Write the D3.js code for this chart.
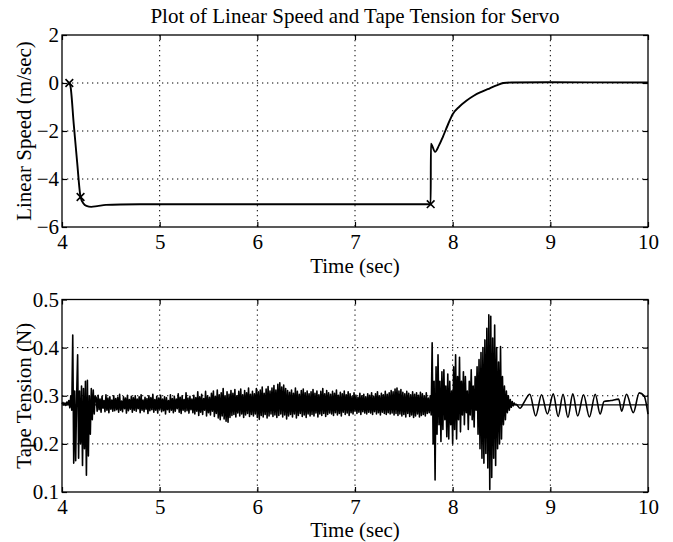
<!DOCTYPE html>
<html lang="en">

<head>
    <meta charset="UTF-8">
    <title>servo speed and tension</title>
    <script src="https://cdn.jsdelivr.net/npm/d3@7"></script>
    <style>
        body { margin: 0; background: #fff; }
    </style>
</head>

<body>
    <svg width="673" height="542" id="mainsvg"></svg>
    <script>
        // ---- data ----
        const timeTicks = [4, 5, 6, 7, 8, 9, 10];
        const speedTicks = [-6, -4, -2, 0, 2];
        const tensionTicks = [0.1, 0.2, 0.3, 0.4, 0.5];

        // linear speed (m/sec)
        const speedTime = [4.07, 4.085, 4.12, 4.155, 4.19, 4.22, 4.25, 4.30, 4.36, 4.45, 4.6, 5.0, 6.0, 7.0, 7.775,
            7.777, 7.82, 7.86, 7.90, 7.95, 8.00, 8.07, 8.14, 8.22, 8.30, 8.38, 8.45, 8.52, 8.6, 9.0, 10.0];
        const speedValue = [0, -0.1, -1.7, -3.3, -4.75, -5.02, -5.12, -5.16, -5.13, -5.08, -5.06, -5.05, -5.05, -5.05, -5.05,
            -2.53, -2.87, -2.6, -2.24, -1.75, -1.3, -0.98, -0.74, -0.52, -0.36, -0.22, -0.1, 0.0, 0.02, 0.03, 0.02];
        const markTime = [4.075, 4.19, 7.775];
        const markValue = [0, -4.75, -5.05];

        // tape tension (N), sampled every 10 ms
        const sampleStep = 0.01;
        const tensionStart = [ // from 4.00
            .283, .286, .281, .285, .280, .287, .282, .290, .275, .300,
            .270, .426, .160, .310, .165, .300, .385, .170, .310, .200,
            .320, .155, .315, .190, .330, .135, .332, .175, .300, .220,
            .315, .250, .312, .262, .300];
        const tensionBand = [ // from 4.35
            .296, .268, .301, .271, .293, .266, .299, .274, .290, .267, .302, .270, .295, .265, .298, .272, .291, .268, .300, .269,
            .294, .271, .297, .266, .303, .270, .289, .267, .298, .273, .295, .264, .301, .269, .292, .272, .299, .266, .296, .270,
            .300, .268, .293, .273, .298, .265, .302, .270, .291, .267, .297, .272, .294, .263, .300, .269, .296, .271, .303, .266,
            .292, .270, .299, .264, .295, .272, .301, .267, .293, .269, .298, .262, .296, .271, .290, .266, .302, .270, .294, .265,
            .299, .268, .293, .273, .304, .266, .297, .263, .300, .270, .292, .267, .306, .269, .295, .264, .299, .271, .293, .265,
            .301, .262, .296, .268, .308, .259, .298, .266, .303, .261, .294, .270, .309, .258, .300, .265, .297, .260, .305, .268,
            .310, .257, .299, .263, .312, .254, .302, .250, .306, .258, .315, .252, .300, .247, .308, .245, .303, .255, .311, .259,
            .305, .261, .313, .256, .300, .264, .309, .258, .314, .262, .302, .255, .311, .260, .306, .263, .316, .257, .303, .261,
            .309, .258, .304, .262, .315, .255, .308, .251, .312, .259, .318, .256, .305, .261, .314, .254, .319, .258, .310, .262,
            .316, .257, .321, .260, .312, .255, .324, .259, .327, .262, .318, .256, .322, .260, .315, .252, .311, .258, .307, .261,
            .312, .256, .305, .262, .316, .254, .309, .259, .303, .263, .311, .257, .314, .260, .306, .255, .310, .262, .304, .258,
            .308, .261, .313, .258, .305, .264, .310, .256, .302, .262, .309, .259, .315, .263, .304, .257, .311, .261, .306, .264,
            .303, .262, .309, .259, .305, .265, .312, .260, .301, .263, .307, .258, .304, .266, .310, .261, .302, .264, .308, .259,
            .304, .265, .299, .262, .306, .268, .301, .263, .297, .266, .305, .261, .300, .267, .303, .264, .298, .262, .304, .266,
            .301, .264, .306, .261, .299, .267, .304, .262, .308, .265, .300, .260, .305, .266, .302, .263, .309, .261, .303, .265,
            .306, .262, .311, .264, .308, .260, .314, .263, .316, .259, .310, .262, .313, .258, .307, .261, .304, .256, .309, .263,
            .305, .257, .302, .260, .308, .255, .303, .258, .306, .262, .301, .256, .307, .259, .304, .261, .300, .258, .306, .263];
        const tensionBurst = [ // from 7.75
            .295, .265, .300, .260, .410, .200, .330, .125, .360, .220,
            .385, .240, .330, .205, .350, .230, .354, .250, .320, .215,
            .345, .210, .330, .240, .310, .200, .360, .230, .385, .210,
            .340, .250, .380, .225, .330, .260, .350, .240, .340, .265,
            .310, .230, .330, .260, .354, .250, .320, .235, .340, .270,
            .360, .220, .375, .190, .390, .170, .400, .160, .416, .180,
            .440, .150, .468, .105, .465, .130, .420, .170, .447, .155,
            .400, .190, .370, .200, .402, .210, .340, .240, .320, .250,
            .310, .265, .300, .270, .292, .276, .288, .279, .285, .281];
        // slow oscillation at the end (peaks and troughs)
        const tailTime = [8.65, 8.69, 8.73, 8.79, 8.85, 8.91, 8.97, 9.03, 9.08, 9.13, 9.18, 9.23, 9.28, 9.34, 9.40,
            9.46, 9.51, 9.55, 9.62, 9.70, 9.73, 9.78, 9.85, 9.91, 9.96, 10.0];
        const tailValue = [.282, .274, .286, .303, .258, .302, .262, .304, .257, .303, .255, .304, .258, .302, .256,
            .303, .262, .288, .290, .293, .268, .303, .265, .306, .300, .262];
        const tensionRef = 0.281;

        // ---- drawing ----
        const svg = d3.select('#mainsvg');
        const font = '"Liberation Serif", "Times New Roman", serif';
        const fontSize = 21;
        const left = 62, right = 648;
        const center = (left + right) / 2;

        svg.append('text').attr('x', center).attr('y', 23)
            .attr('text-anchor', 'middle').attr('font-family', font).attr('font-size', fontSize)
            .text('Plot of Linear Speed and Tape Tension for Servo');

        function panel(top, bottom, yDomain, yTicks, yFormat, yLabel, labelY) {
            const x = d3.scaleLinear().domain([4, 10]).range([left, right]);
            const y = d3.scaleLinear().domain(yDomain).range([bottom, top]);
            const g = svg.append('g');

            // dotted grid
            g.append('g').selectAll('line').data(timeTicks.slice(1, -1)).join('line')
                .attr('x1', d => x(d)).attr('x2', d => x(d)).attr('y1', top).attr('y2', bottom)
                .attr('stroke', '#000').attr('stroke-width', 1).attr('stroke-dasharray', '1.3,3.7');
            g.append('g').selectAll('line').data(yTicks.slice(1, -1)).join('line')
                .attr('x1', left).attr('x2', right).attr('y1', d => y(d)).attr('y2', d => y(d))
                .attr('stroke', '#000').attr('stroke-width', 1).attr('stroke-dasharray', '1.3,3.7');

            const xAxis = g.append('g').attr('transform', `translate(0,${bottom})`)
                .call(d3.axisBottom(x).tickValues(timeTicks).tickFormat(d3.format('d'))
                    .tickSizeInner(-5).tickSizeOuter(0).tickPadding(7));
            g.append('g').attr('transform', `translate(0,${top})`)
                .call(d3.axisTop(x).tickValues(timeTicks).tickFormat('').tickSizeInner(-5).tickSizeOuter(0));
            const yAxis = g.append('g').attr('transform', `translate(${left},0)`)
                .call(d3.axisLeft(y).tickValues(yTicks).tickFormat(yFormat)
                    .tickSizeInner(-5).tickSizeOuter(0).tickPadding(3));
            g.append('g').attr('transform', `translate(${right},0)`)
                .call(d3.axisRight(y).tickValues(yTicks).tickFormat('').tickSizeInner(-5).tickSizeOuter(0));
            g.selectAll('.tick line').attr('stroke-width', 1.2);
            g.selectAll('.domain').remove();
            [xAxis, yAxis].forEach(a => a.selectAll('text')
                .attr('font-family', font).attr('font-size', fontSize).attr('fill', '#000'));

            g.append('rect').attr('x', left).attr('y', top)
                .attr('width', right - left).attr('height', bottom - top)
                .attr('fill', 'none').attr('stroke', '#000').attr('stroke-width', 1.3);

            g.append('text').attr('x', center).attr('y', labelY)
                .attr('text-anchor', 'middle').attr('font-family', font).attr('font-size', fontSize)
                .text('Time (sec)');
            g.append('text')
                .attr('transform', `translate(31,${(top + bottom) / 2}) rotate(-90)`)
                .attr('text-anchor', 'middle').attr('font-family', font).attr('font-size', fontSize)
                .text(yLabel);
            return { g, x, y };
        }

        // top: linear speed
        const p1 = panel(35, 227, [-6, 2], speedTicks, d3.format('d'), 'Linear Speed (m/sec)', 273);
        const speedData = speedTime.map((t, i) => [t, speedValue[i]]);
        p1.g.append('path').datum(speedData)
            .attr('d', d3.line().x(d => p1.x(d[0])).y(d => p1.y(d[1])).curve(d3.curveMonotoneX))
            .attr('fill', 'none').attr('stroke', '#000').attr('stroke-width', 1.9);
        p1.g.selectAll('.mark').data(markTime.map((t, i) => [t, markValue[i]])).join('path')
            .attr('class', 'mark')
            .attr('transform', d => `translate(${p1.x(d[0])},${p1.y(d[1])})`)
            .attr('d', d3.symbol(d3.symbolX, 40))
            .attr('fill', 'none').attr('stroke', '#000').attr('stroke-width', 1.6);

        // bottom: tape tension
        const p2 = panel(299.5, 492, [0.1, 0.5], tensionTicks, d3.format('.1f'), 'Tape Tension (N)', 537);
        const tensionData = [].concat(
            tensionStart.map((v, i) => [4.00 + i * sampleStep, v]),
            tensionBand.map((v, i) => [4.35 + i * sampleStep, v]),
            tensionBurst.map((v, i) => [7.75 + i * sampleStep, v]));
        p2.g.append('line')
            .attr('x1', left).attr('x2', right)
            .attr('y1', p2.y(tensionRef)).attr('y2', p2.y(tensionRef))
            .attr('stroke', '#000').attr('stroke-width', 1.3);
        p2.g.append('path').datum(tensionData)
            .attr('d', d3.line().x(d => p2.x(d[0])).y(d => p2.y(d[1])))
            .attr('fill', 'none').attr('stroke', '#000').attr('stroke-width', 1.6)
            .attr('stroke-linejoin', 'round');
        const tailData = [tensionData[tensionData.length - 1]].concat(tailTime.map((t, i) => [t, tailValue[i]]));
        p2.g.append('path').datum(tailData)
            .attr('d', d3.line().x(d => p2.x(d[0])).y(d => p2.y(d[1])).curve(d3.curveMonotoneX))
            .attr('fill', 'none').attr('stroke', '#000').attr('stroke-width', 1.6);
    </script>
</body>

</html>
